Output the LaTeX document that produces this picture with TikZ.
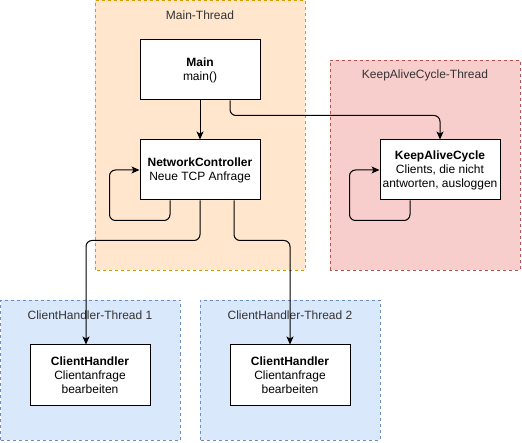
\documentclass[tikz,border=0pt]{standalone}
\usepackage{fontspec}
\setmainfont{Liberation Sans}
\usetikzlibrary{arrows.meta}
\definecolor{mainfill}{HTML}{FFE6CC}
\definecolor{mainline}{HTML}{D79B00}
\definecolor{keepfill}{HTML}{F8CECC}
\definecolor{keepline}{HTML}{B85450}
\definecolor{clientfill}{HTML}{DAE8FC}
\definecolor{clientline}{HTML}{6C8EBF}
\definecolor{titlegray}{HTML}{333333}
\begin{document}
\begin{tikzpicture}[x=1pt,y=1pt,
        >={Stealth[length=8pt,width=7pt,inset=2pt]},
        every node/.style={font=\fontsize{12}{14}\selectfont},
        thread/.style={dash pattern=on 3pt off 3pt,line width=0.8pt},
        title/.style={text=titlegray},
        box/.style={draw,fill=white,line width=1pt,minimum width=120pt,minimum height=60pt,align=center,inner sep=0pt},
        link/.style={->,line width=1pt,rounded corners=6pt}]
        \useasboundingbox (0,0) rectangle (522,442);
        % thread areas
        \draw[thread,fill=mainfill,draw=mainline] (95,172) rectangle (305,441.5);
        \draw[thread,fill=keepfill,draw=keepline] (330,172) rectangle (520,382);
        \draw[thread,fill=clientfill,draw=clientline] (0.5,2) rectangle (180,142);
        \draw[thread,fill=clientfill,draw=clientline] (200,2) rectangle (380,142);
        \node[title] (mainT) at (200,427) {Main-Thread};
        \node[title] (keepT) at (425,367) {KeepAliveCycle-Thread};
        \node[title] (clientT1) at (90,127) {ClientHandler-Thread 1};
        \node[title] (clientT2) at (290,127) {ClientHandler-Thread 2};
        % boxes
        \node[box] (main) at (200,372) {\textbf{Main}\\main()};
        \node[box] (nc) at (200,272) {\textbf{NetworkController}\\Neue TCP Anfrage};
        \node[box] (keep) at (440,272) {\textbf{KeepAliveCycle}\\Clients, die nicht\\antworten, ausloggen};
        \node[box] (ch1) at (90,67) {\textbf{ClientHandler}\\Clientanfrage\\bearbeiten};
        \node[box] (ch2) at (290,67) {\textbf{ClientHandler}\\Clientanfrage\\bearbeiten};
        % connectors
        \draw[link] (main) -- (nc);
        \draw[link] ([xshift=30pt]main.south) -- ++(0,-15) -| (keep.north);
        \draw[link] ([xshift=-30pt]nc.south) |- ([shift={(-30pt,-20pt)}]nc.south west) |- (nc.west);
        \draw[link] ([xshift=-30pt]keep.south) |- ([shift={(-30pt,-20pt)}]keep.south west) |- (keep.west);
        \draw[link] (nc.south) -- ++(0,-40) -| ([xshift=-4pt]ch1.north);
        \draw[link] ([xshift=34pt]nc.south) -- ++(0,-40) -| (ch2.north);
    \end{tikzpicture}
\end{document}
